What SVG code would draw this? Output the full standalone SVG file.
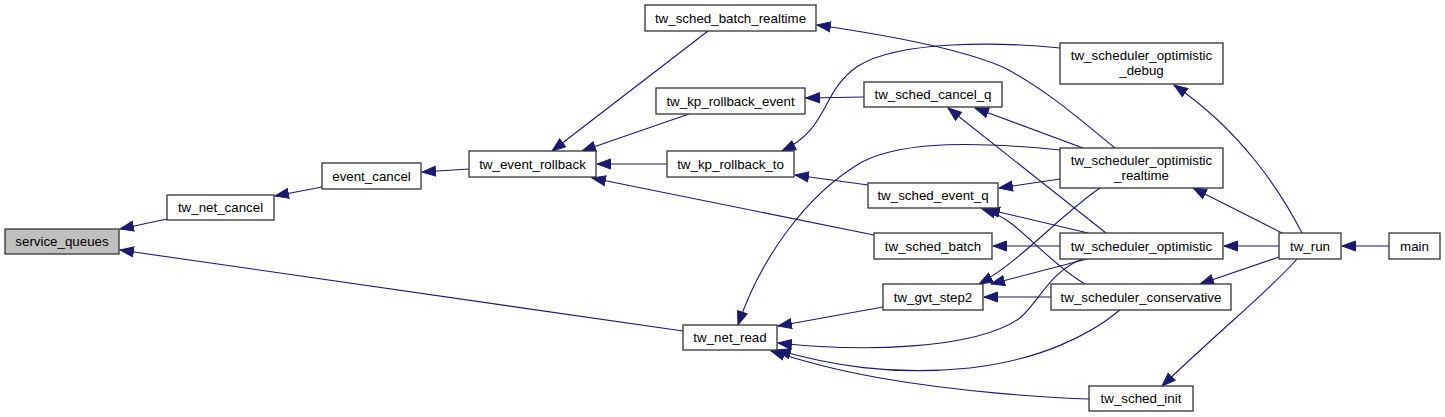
<svg xmlns="http://www.w3.org/2000/svg" width="1445" height="417" viewBox="0 0 1445 417">
<style>
.n rect{fill:#ffffff;stroke:#333333;stroke-width:1.3}
.n text{font-family:"Liberation Sans",Arial,sans-serif;font-size:13.33px;text-anchor:middle;fill:#000}
.e path{fill:none;stroke:#191970;stroke-width:1.1;marker-end:url(#ah)}
</style>
<defs>
<marker id="ah" markerUnits="userSpaceOnUse" markerWidth="15" markerHeight="12" refX="14" refY="6" orient="auto">
<path d="M0.5,1 L14,6 L0.5,11 z" fill="#191970" stroke="#191970" stroke-width="1"/>
</marker>
</defs>
<rect width="1445" height="417" fill="#ffffff"/>
<g id="edges" class="e">
<path d="M167,219 L120,229"/>
<path d="M683,331 L120,250"/>
<path d="M322,187 L275,196"/>
<path d="M469,169 L422,172"/>
<path d="M708,31 L552,151"/>
<path d="M689,114 L582,151"/>
<path d="M667,164 L597,164"/>
<path d="M874,235 L592,178"/>
<path d="M1060,48 C1000,42 900,40 858,66 C820,92 830,128 782,151"/>
<path d="M864,97 L806,98"/>
<path d="M868,185 L795,175"/>
<path d="M1115,148 C1085,124 1050,92 1005,68 C960,48 880,34 817,25"/>
<path d="M1083,148 L975,108"/>
<path d="M1106,233 L948,108"/>
<path d="M1060,150 C980,142 905,140 862,162 C805,195 760,260 738,325"/>
<path d="M1100,188 C1060,215 1020,262 979,284"/>
<path d="M1087,259 L991,284"/>
<path d="M1051,297 L984,297"/>
<path d="M1060,246 L993,246"/>
<path d="M1060,179 L999,188"/>
<path d="M1088,233 L986,209"/>
<path d="M1085,284 C1060,270 1032,240 1012,224 C1002,216 992,212 982,209"/>
<path d="M883,307 L778,326"/>
<path d="M1082,259 C1050,272 1040,300 1020,318 C975,350 860,352 778,343"/>
<path d="M1120,310 C1090,335 1040,360 970,368 C890,376 830,365 777,350"/>
<path d="M1089,399 C1050,398 960,392 880,378 C830,369 800,360 771,351"/>
<path d="M1389,246 L1342,246"/>
<path d="M1279,246 L1224,246"/>
<path d="M1279,257 L1200,284"/>
<path d="M1282,233 L1193,188"/>
<path d="M1302,233 C1280,190 1240,130 1174,85"/>
<path d="M1297,259 C1270,290 1220,330 1162,386"/>
</g>
<g id="service_queues" class="n"><rect x="5" y="229" width="114" height="25" style="fill:#bfbfbf"/><text x="62" y="246">service_queues</text></g>
<g id="tw_net_cancel" class="n"><rect x="167" y="195" width="107" height="25"/><text x="220.5" y="212">tw_net_cancel</text></g>
<g id="event_cancel" class="n"><rect x="322" y="163" width="99" height="26"/><text x="371.5" y="180.5">event_cancel</text></g>
<g id="tw_event_rollback" class="n"><rect x="469" y="151" width="127" height="26"/><text x="532.5" y="168.5">tw_event_rollback</text></g>
<g id="tw_sched_batch_realtime" class="n"><rect x="645" y="5" width="171" height="26"/><text x="730.5" y="22.5">tw_sched_batch_realtime</text></g>
<g id="tw_kp_rollback_event" class="n"><rect x="656" y="88" width="149" height="26"/><text x="730.5" y="105.5">tw_kp_rollback_event</text></g>
<g id="tw_kp_rollback_to" class="n"><rect x="667" y="151" width="127" height="26"/><text x="730.5" y="168.5">tw_kp_rollback_to</text></g>
<g id="tw_sched_cancel_q" class="n"><rect x="864" y="82" width="138" height="25"/><text x="933" y="99">tw_sched_cancel_q</text></g>
<g id="tw_sched_event_q" class="n"><rect x="868" y="183" width="130" height="25"/><text x="933" y="200">tw_sched_event_q</text></g>
<g id="tw_sched_batch" class="n"><rect x="874" y="233" width="118" height="26"/><text x="933" y="250.5">tw_sched_batch</text></g>
<g id="tw_gvt_step2" class="n"><rect x="883" y="284" width="100" height="26"/><text x="933" y="301.5">tw_gvt_step2</text></g>
<g id="tw_net_read" class="n"><rect x="683" y="325" width="94" height="25"/><text x="730" y="342">tw_net_read</text></g>
<g id="tw_scheduler_optimistic_debug" class="n"><rect x="1060" y="43" width="163" height="41"/><text x="1141.5" y="60">tw_scheduler_optimistic</text><text x="1141.5" y="75">_debug</text></g>
<g id="tw_scheduler_optimistic_realtime" class="n"><rect x="1060" y="148" width="163" height="40"/><text x="1141.5" y="165">tw_scheduler_optimistic</text><text x="1141.5" y="180">_realtime</text></g>
<g id="tw_scheduler_optimistic" class="n"><rect x="1060" y="233" width="163" height="26"/><text x="1141.5" y="250.5">tw_scheduler_optimistic</text></g>
<g id="tw_scheduler_conservative" class="n"><rect x="1051" y="284" width="180" height="26"/><text x="1141" y="301.5">tw_scheduler_conservative</text></g>
<g id="tw_sched_init" class="n"><rect x="1089" y="386" width="104" height="25"/><text x="1141" y="403">tw_sched_init</text></g>
<g id="tw_run" class="n"><rect x="1279" y="233" width="62" height="26"/><text x="1310" y="250.5">tw_run</text></g>
<g id="main" class="n"><rect x="1389" y="233" width="51" height="26"/><text x="1414.5" y="250.5">main</text></g>
</svg>
